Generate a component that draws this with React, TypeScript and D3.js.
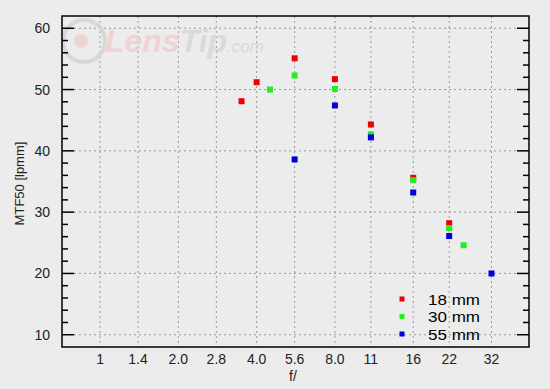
import React from "react";
import * as d3 from "d3";

const fTicks = [1, 1.4, 2, 2.8, 4, 5.6, 8, 11, 16, 22, 32];
const fTickLabels = ["1", "1.4", "2.0", "2.8", "4.0", "5.6", "8.0", "11", "16", "22", "32"];
const yTicks = [10, 20, 30, 40, 50, 60];

const f18 = [3.5, 4, 5.6, 8, 11, 16, 22];
const v18 = [48.1, 51.2, 55.1, 51.7, 44.3, 35.6, 28.2];
const f30 = [4.5, 5.6, 8, 11, 16, 22, 25];
const v30 = [50.0, 52.3, 50.1, 42.7, 35.2, 27.4, 24.6];
const f55 = [5.6, 8, 11, 16, 22, 32];
const v55 = [38.6, 47.4, 42.2, 33.2, 26.1, 20.0];

const seriesNames = ["18 mm", "30 mm", "55 mm"];
const seriesColors = ["#ee0000", "#22ee22", "#0000dd"];

const W = 550, H = 389;
const L = 62, T = 16, R = 529, B = 347;

export default function App() {
  const x = d3.scaleLog().domain([0.714, 44.6]).range([L, R]);
  const y = d3.scaleLinear().domain([8, 62]).range([B, T]);
  const series = [
    { f: f18, v: v18 },
    { f: f30, v: v30 },
    { f: f55, v: v55 },
  ];
  const minor = d3.range(10, 61, 2);
  const font = "'Liberation Sans', Arial, sans-serif";
  const ms = 6;

  return (
    <svg width={W} height={H} style={{ position: "absolute", left: 0, top: 0, background: "#ececec" }} fontFamily={font}>
      <rect x={0} y={0} width={W} height={H} fill="#ececec" />
      {/* grid */}
      {fTicks.map((f, i) => (
        <line key={"gx" + i} x1={x(f)} x2={x(f)} y1={T} y2={B} stroke="#999" strokeDasharray="2,3" />
      ))}
      {yTicks.map((v, i) => (
        <line key={"gy" + i} x1={L + 12} x2={R - 12} y1={y(v)} y2={y(v)} stroke="#999" strokeDasharray="2,3" />
      ))}
      {/* watermark */}
      <g opacity={0.85}>
        <circle cx={84} cy={41} r={21} fill="none" stroke="#d4d4d4" strokeWidth={4} />
        <circle cx={81} cy={41} r={7} fill="#f0d0d0" />
        <text x={105} y={52} fontSize={32} fontWeight="bold" fontStyle="italic">
          <tspan fill="#f0cfcf">Lens</tspan>
          <tspan fill="#d8d8d8">Tip</tspan>
          <tspan fill="#d4d4d4" fontSize={17} fontWeight="normal">.com</tspan>
        </text>
      </g>
      {/* ticks */}
      {minor.map((v, i) => {
        const major = v % 10 === 0;
        const len = major ? 12 : 6;
        return (
          <g key={"t" + i}>
            <line x1={L} x2={L + len} y1={y(v)} y2={y(v)} stroke="#000" strokeWidth={1.5} />
            <line x1={R - len} x2={R} y1={y(v)} y2={y(v)} stroke="#000" strokeWidth={1.5} />
          </g>
        );
      })}
      {/* border */}
      <rect x={L} y={T} width={R - L} height={B - T} fill="none" stroke="#000" strokeWidth={1.5} />
      {/* y labels */}
      {yTicks.map((v, i) => (
        <text key={"yl" + i} x={50} y={y(v)} dy="0.36em" textAnchor="end" fontSize={14} fill="#222">{v}</text>
      ))}
      {/* x labels */}
      {fTicks.map((f, i) => (
        <text key={"xl" + i} x={x(f)} y={364} textAnchor="middle" fontSize={14} fill="#222">{fTickLabels[i]}</text>
      ))}
      <text x={293} y={381} textAnchor="middle" fontSize={14} fill="#222">f/</text>
      <text transform={`translate(24,183.5) rotate(-90)`} textAnchor="middle" fontSize={13} fill="#222">MTF50 [lpmm]</text>
      {/* points */}
      {series.map((s, si) =>
        s.f.map((f, j) => (
          <rect key={`p${si}-${j}`} x={x(f) - ms / 2} y={y(s.v[j]) - ms / 2} width={ms} height={ms} fill={seriesColors[si]} />
        ))
      )}
      {/* legend */}
      {seriesNames.map((n, i) => (
        <g key={"lg" + i}>
          <rect x={402 - 2.5} y={299 + i * 17.5 - 2.5} width={5} height={5} fill={seriesColors[i]} />
          <text x={428} y={299 + i * 17.5} dy="0.36em" fontSize={15.5} fontWeight="500" fill="#000" textLength={52} lengthAdjust="spacingAndGlyphs">{n}</text>
        </g>
      ))}
    </svg>
  );
}
